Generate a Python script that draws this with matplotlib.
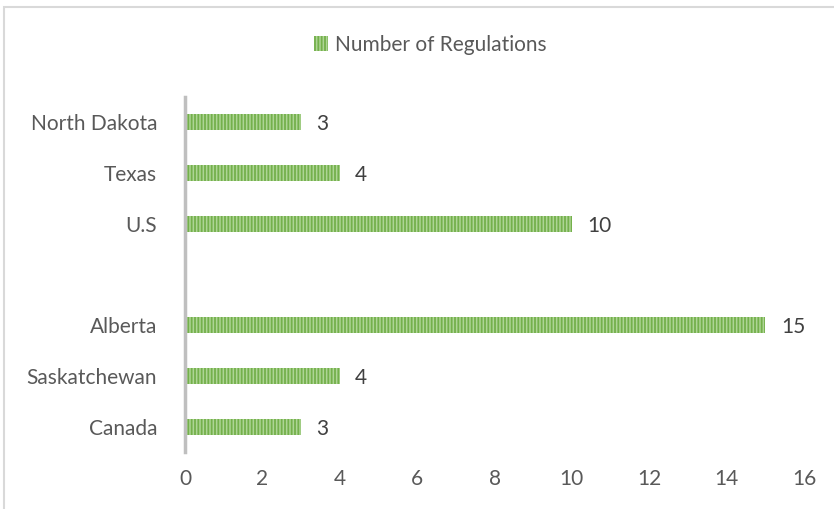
import matplotlib.pyplot as plt
from matplotlib.patches import Rectangle

# categories from top to bottom; the empty one is the gap between countries
categories = ['North Dakota', 'Texas', 'U.S', '', 'Alberta', 'Saskatchewan', 'Canada']
values = [3, 4, 10, None, 15, 4, 3]
xticks = [0, 2, 4, 6, 8, 10, 12, 14, 16]

plt.rcParams['font.family'] = ['Lato', 'DejaVu Sans']
plt.rcParams['hatch.linewidth'] = 1.3

fig = plt.figure(figsize=(8.34, 5.09), dpi=100)
ax = fig.add_axes([185 / 834, 57 / 509, 619 / 834, 355 / 509])

# outer chart border (only top and left show in the crop)
fig.patches.append(Rectangle((4 / 834, -0.1), 1.1, 1.1 - 7 / 509,
                             transform=fig.transFigure, fill=False,
                             edgecolor='#d9d9d9', linewidth=1.5))

pos = list(range(len(categories)))[::-1]
for p, v in zip(pos, values):
    if v is None:
        continue
    ax.barh(p, v, height=0.32, facecolor='#aed595', edgecolor='#74b04b',
            hatch='|||||', linewidth=0)
    ax.text(v + 0.4, p, str(v), va='center_baseline', ha='left',
            fontsize=15, color='#404040')

# legend proxy
ax.barh([0], [0], facecolor='#aed595', edgecolor='#74b04b', hatch='|||||',
        linewidth=0, label='Number of Regulations')
ax.legend(loc='center', bbox_to_anchor=(430 / 834, 1 - 45 / 509),
          bbox_transform=fig.transFigure, frameon=False,
          fontsize=15, labelcolor='#595959', handlelength=0.7,
          handleheight=0.7, handletextpad=0.3)

ax.set_yticks(pos)
ax.set_yticklabels(categories)
ax.set_ylim(-0.5, len(categories) - 0.5)
ax.set_xlim(0, 16)
ax.set_xticks(xticks)
ax.tick_params(axis='both', length=0, labelsize=15, labelcolor='#595959')
ax.tick_params(axis='y', pad=20)
ax.tick_params(axis='x', pad=12)

for s in ['top', 'right', 'bottom']:
    ax.spines[s].set_visible(False)
ax.spines['left'].set_color('#bfbfbf')
ax.spines['left'].set_linewidth(2.5)

plt.savefig('out.png', dpi=100)
